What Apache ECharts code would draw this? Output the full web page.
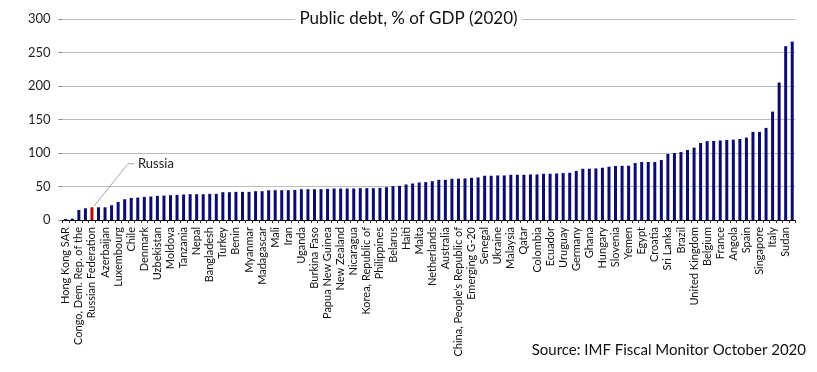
<!DOCTYPE html>
<html><head><meta charset="utf-8">
<script src="https://cdn.jsdelivr.net/npm/echarts@6/dist/echarts.min.js"></script>
<style>html,body{margin:0;padding:0;background:#fff}#c{width:817px;height:372px}</style>
</head><body><div id="c"></div>
<script>
const categories = [
 "Hong Kong SAR","Brunei Darussalam","Congo, Dem. Rep. of the","Estonia","Russian Federation","Kuwait","Azerbaijan","Botswana",
 "Luxembourg","Kazakhstan","Chile","Guatemala","Denmark","Peru","Uzbekistan","Bulgaria",
 "Moldova","Indonesia","Tanzania","Paraguay","Nepal","Cameroon","Bangladesh","Czech Republic",
 "Turkey","Norway","Benin","Sweden","Myanmar","Ethiopia","Madagascar","Côte d'Ivoire",
 "Mali","Lithuania","Iran","Guinea","Uganda","Saudi Arabia","Burkina Faso","Switzerland",
 "Papua New Guinea","Romania","New Zealand","Latvia","Nicaragua","Cambodia","Korea, Republic of","Thailand",
 "Philippines","Honduras","Belarus","Serbia","Haiti","Dominican Republic","Malta","Poland",
 "Netherlands","Vietnam","Australia","Lao P.D.R.","China, People's Republic of","Ireland","Emerging G-20","Slovak Republic",
 "Senegal","Kenya","Ukraine","India","Malaysia","Jamaica","Qatar","South Africa",
 "Colombia","Pakistan","Ecuador","Finland","Uruguay","Morocco","Germany","Israel",
 "Ghana","Austria","Hungary","Bahrain","Slovenia","Jordan","Yemen","Argentina",
 "Egypt","Mozambique","Croatia","Tunisia","Sri Lanka","Cyprus","Brazil","Bhutan",
 "United Kingdom","Canada","Belgium","Gambia","France","Mongolia","Angola","Zambia",
 "Spain","United States","Singapore","Portugal","Italy","Greece","Sudan","Japan"
];
const debtValues = [
 1.5,2.0,15,17.5,19,19,19,22,
 27,31,33,33.5,34.5,35,36,36.5,
 37,37.5,38,38.5,38.5,38.5,39,39,
 41.5,41.5,42,42,42,43,43,44.4,
 44.5,44.5,44.5,45,46,46,46,46,
 46.5,47,47,47,47,47.5,47.5,47.5,
 48,49,50.5,51,53,54.5,56,56.5,
 58,60,60,61.5,61.7,62,63,63.5,
 66,66,66.5,66.5,67.5,67.5,67.5,68,
 68,69,69,69.5,70,70.5,73.3,76.5,
 76.5,77,78,79.5,80.6,80.8,81,85,
 86.5,86.6,86.6,89.5,98.5,100,101.4,104.5,
 108,115,117.7,118,118.7,119.5,120,121,
 123,131.5,131.5,137.5,161.8,205.2,259.4,266.2
];
const highlightName = "Russian Federation";
const annotationText = "Russia";
const titleText = "Public debt, % of GDP (2020)";
const sourceText = "Source: IMF Fiscal Monitor October 2020";
const yTicks = [0,50,100,150,200,250,300];

const NAVY = '#0c0c6e', RED = '#c00000', FONT = 'Lato, "Liberation Sans", sans-serif';
const chart = echarts.init(document.getElementById('c'), null, {renderer:'canvas'});
const hiIdx = categories.indexOf(highlightName);
chart.setOption({
  animation:false,
  backgroundColor:'#fff',
  title:{text:titleText,left:'center',top:9,padding:[1,4],backgroundColor:'#fff',
    textStyle:{fontFamily:FONT,fontSize:17,fontWeight:'normal',color:'#111'}},
  grid:{left:62.5,right:21.5,top:19,bottom:152,containLabel:false},
  xAxis:{type:'category',data:categories,
    axisLine:{lineStyle:{color:'#000',width:1}},
    axisTick:{show:true,interval:0,length:3,lineStyle:{color:'#333'}},
    axisLabel:{interval:1,rotate:90,margin:7,fontFamily:FONT,fontSize:11,color:'#111'}},
  yAxis:{type:'value',min:yTicks[0],max:yTicks[yTicks.length-1],interval:50,
    axisLine:{show:false},axisTick:{show:true,length:4,lineStyle:{color:'#888'}},
    axisLabel:{margin:12,fontFamily:FONT,fontSize:13,color:'#222'},
    splitLine:{lineStyle:{color:'#bdbdbd',width:1}}},
  series:[{type:'bar',barWidth:3,
    data:debtValues.map((v,i)=>({value:v,itemStyle:{color:i===hiIdx?RED:NAVY}}))}],
  graphic:[]
});
const p = chart.convertToPixel({seriesIndex:0},[hiIdx, debtValues[hiIdx]]);
chart.setOption({graphic:[
  {type:'polyline',shape:{points:[[p[0]+2,p[1]-1],[p[0]+36,p[1]-43.5],[p[0]+42,p[1]-43.5]]},
   style:{stroke:'#a6a6a6',lineWidth:1,fill:null},z:10},
  {type:'text',x:p[0]+46,y:p[1]-43.5,style:{text:annotationText,fontFamily:FONT,fontSize:13,fill:'#222',verticalAlign:'middle'},z:10},
  {type:'text',right:11,top:343,style:{text:sourceText,fontFamily:FONT,fontSize:15,fill:'#111'}}
]});
</script></body></html>
